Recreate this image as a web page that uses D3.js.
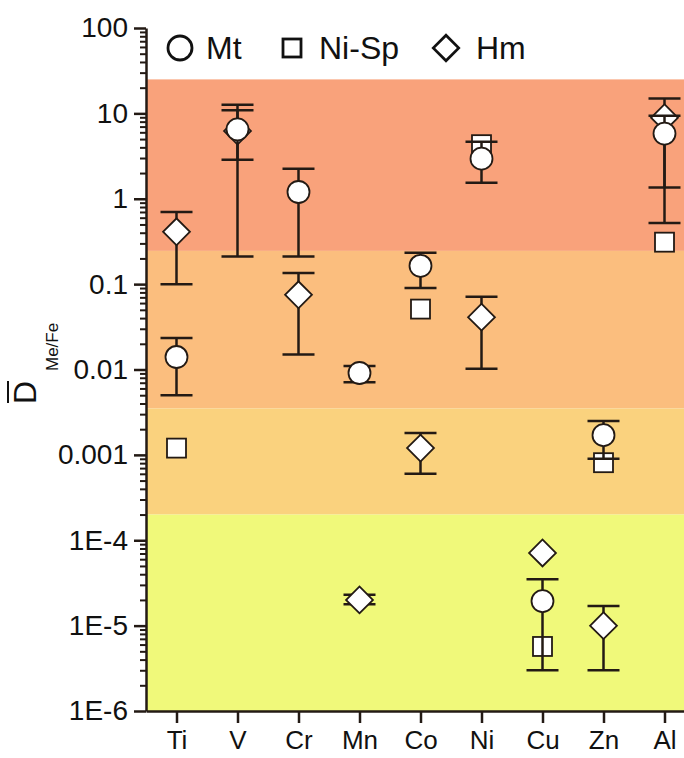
<!DOCTYPE html>
<html>
<head>
<meta charset="utf-8">
<script src="https://cdn.jsdelivr.net/npm/d3@7"></script>
<style>
  body { margin: 0; background: #fff; }
  text { font-family: "Liberation Sans", Arial, sans-serif; fill: #111; }
</style>
</head>
<body>
<svg width="684" height="758"></svg>
<script>
const elements = ["Ti", "V", "Cr", "Mn", "Co", "Ni", "Cu", "Zn", "Al"];

// Mt (circles) with error range
const mtElem = ["Ti", "V", "Cr", "Mn", "Co", "Ni", "Cu", "Zn", "Al"];
const mtValue = [0.014, 6.5, 1.2, 0.0091, 0.164, 2.95, 1.94e-5, 0.0017, 5.8];
const mtLow = [0.005, 2.87, 0.21, 0.0071, 0.09, 1.54, 3.0e-6, 0.0009, 1.35];
const mtHigh = [0.0234, 10.9, 2.25, 0.011, 0.233, 4.66, 3.5e-5, 0.0025, 9.4];

// Ni-Sp (squares), no error bars
const spElem = ["Ti", "Co", "Ni", "Cu", "Zn", "Al"];
const spValue = [0.0012, 0.051, 4.3, 5.7e-6, 0.00081, 0.31];

// Hm (diamonds) with error range
const hmElem = ["Ti", "V", "Cr", "Mn", "Co", "Ni", "Cu", "Zn", "Al"];
const hmValue = [0.41, 6.2, 0.075, 2.0e-5, 0.0012, 0.041, 7.1e-5, 1.0e-5, 8.9];
const hmLow = [0.1, 0.21, 0.015, 1.78e-5, 0.0006, 0.0102, null, 3.0e-6, 0.52];
const hmHigh = [0.7, 12.6, 0.135, 2.3e-5, 0.0018, 0.071, null, 1.7e-5, 14.9];

// background zones
const bandTop = [25, 0.245, 0.0035, 2.0e-4];
const bandBottom = [0.245, 0.0035, 2.0e-4, 1e-6];
const bandColor = ["#f9a27b", "#fbbe7e", "#fad27e", "#f0f97a"];

const yTicks = [100, 10, 1, 0.1, 0.01, 0.001, 1e-4, 1e-5, 1e-6];
const yTickLabels = ["100", "10", "1", "0.1", "0.01", "0.001", "1E-4", "1E-5", "1E-6"];

const svg = d3.select("svg");
const plotLeft = 146, plotRight = 695, plotTop = 28, plotBottom = 711;
const ink = "#231a14";

const x = d3.scalePoint().domain(elements).range([plotLeft, plotRight]).padding(0.5);
const y = d3.scaleLog().domain([1e-6, 100]).range([plotBottom, plotTop]);

// zones
svg.selectAll(".band")
    .data(bandColor)
    .enter()
    .append("rect")
    .attr("x", plotLeft)
    .attr("y", (d, i) => y(bandTop[i]))
    .attr("width", plotRight - plotLeft)
    .attr("height", (d, i) => y(bandBottom[i]) - y(bandTop[i]))
    .attr("fill", d => d);

const capW = 16;
function errorBars(g, elems, lo, hi) {
    elems.forEach((e, i) => {
        if (lo[i] == null) return;
        const cx = x(e);
        g.append("line").attr("x1", cx).attr("x2", cx)
            .attr("y1", y(lo[i])).attr("y2", y(hi[i]));
        [lo[i], hi[i]].forEach(v => {
            g.append("line").attr("x1", cx - capW).attr("x2", cx + capW)
                .attr("y1", y(v)).attr("y2", y(v));
        });
    });
}

// squares (Ni-Sp)
svg.append("g").selectAll("rect")
    .data(spElem)
    .enter()
    .append("rect")
    .attr("x", d => x(d) - 9.5)
    .attr("y", (d, i) => y(spValue[i]) - 9.5)
    .attr("width", 19)
    .attr("height", 19)
    .attr("fill", "#fff")
    .attr("stroke", ink)
    .attr("stroke-width", 1.8);

// Hm error bars, then diamonds
errorBars(svg.append("g").attr("stroke", ink).attr("stroke-width", 2.5), hmElem, hmLow, hmHigh);
const dia = d3.symbol().type(d3.symbolSquare).size(360);
svg.append("g").selectAll("path")
    .data(hmElem)
    .enter()
    .append("path")
    .attr("d", dia)
    .attr("transform", (d, i) => `translate(${x(d)},${y(hmValue[i])}) rotate(45)`)
    .attr("fill", "#fff")
    .attr("stroke", ink)
    .attr("stroke-width", 1.8);

// Mt error bars, then circles
errorBars(svg.append("g").attr("stroke", ink).attr("stroke-width", 2.5), mtElem, mtLow, mtHigh);
svg.append("g").selectAll("circle")
    .data(mtElem)
    .enter()
    .append("circle")
    .attr("cx", d => x(d))
    .attr("cy", (d, i) => y(mtValue[i]))
    .attr("r", 11)
    .attr("fill", "#fff")
    .attr("stroke", ink)
    .attr("stroke-width", 1.8);

// y axis with minor ticks
const minor = [];
for (let k = -6; k < 2; k++) {
    for (let m = 2; m <= 9; m++) minor.push(m * Math.pow(10, k));
}
const yMinor = svg.append("g").attr("transform", `translate(${plotLeft},0)`)
    .call(d3.axisLeft(y).tickValues(minor).tickSize(6).tickSizeOuter(0).tickFormat(""));
yMinor.select(".domain").remove();
yMinor.selectAll("line").attr("stroke", ink).attr("stroke-width", 2);

const yAxis = svg.append("g").attr("transform", `translate(${plotLeft},0)`)
    .call(d3.axisLeft(y).tickValues(yTicks).tickSize(12).tickSizeOuter(0)
        .tickFormat((d, i) => yTickLabels[i]));
yAxis.select(".domain").attr("stroke", ink).attr("stroke-width", 2.5);
yAxis.selectAll(".tick line").attr("stroke", ink).attr("stroke-width", 2.5);
yAxis.selectAll(".tick text")
    .attr("x", -18)
    .style("font-size", "28px")
    .style("font-family", "'Liberation Sans', Arial, sans-serif")
    .attr("fill", "#111");

// x axis
const xAxis = svg.append("g").attr("transform", `translate(0,${plotBottom})`)
    .call(d3.axisBottom(x).tickSize(12).tickSizeOuter(0));
xAxis.select(".domain").attr("stroke", ink).attr("stroke-width", 2.5);
xAxis.selectAll(".tick line").attr("stroke", ink).attr("stroke-width", 2.5);
xAxis.selectAll(".tick text")
    .attr("y", 20)
    .style("font-size", "26px")
    .style("font-family", "'Liberation Sans', Arial, sans-serif")
    .attr("fill", "#111");

// y title: D with overbar, subscript Me/Fe
const title = svg.append("g").attr("transform", "translate(36,404) rotate(-90)");
title.append("text")
    .attr("x", 0)
    .attr("y", 0)
    .style("font-size", "32px")
    .text("D");
title.append("line")
    .attr("x1", 1).attr("x2", 23)
    .attr("y1", -28).attr("y2", -28)
    .attr("stroke", "#111").attr("stroke-width", 2);
title.append("text")
    .attr("x", 33)
    .attr("y", 22)
    .style("font-size", "17px")
    .text("Me/Fe");

// legend
const legY = 48;
const legend = svg.append("g");
legend.append("circle").attr("cx", 180).attr("cy", legY).attr("r", 12)
    .attr("fill", "#fff").attr("stroke", "#111").attr("stroke-width", 2.8);
legend.append("rect").attr("x", 283).attr("y", legY - 9).attr("width", 18).attr("height", 18)
    .attr("fill", "#fff").attr("stroke", "#111").attr("stroke-width", 2.8);
legend.append("path").attr("d", dia)
    .attr("transform", `translate(446,${legY}) rotate(45) scale(0.95)`)
    .attr("fill", "#fff").attr("stroke", "#111").attr("stroke-width", 2.8);
const legText = ["Mt", "Ni-Sp", "Hm"];
const legX = [206, 319, 476];
legend.selectAll(".lt")
    .data(legText)
    .enter()
    .append("text")
    .attr("x", (d, i) => legX[i])
    .attr("y", legY + 11)
    .style("font-size", "32px")
    .text(d => d);
</script>
</body>
</html>
